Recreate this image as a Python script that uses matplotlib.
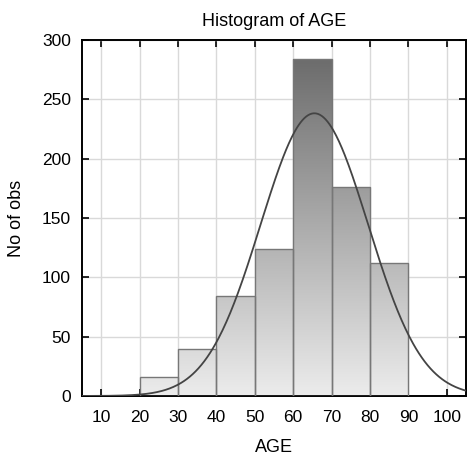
import numpy as np
import matplotlib.pyplot as plt
from matplotlib.patches import Rectangle
from matplotlib.colors import LinearSegmentedColormap

plt.rcParams['font.family'] = ['Liberation Sans', 'DejaVu Sans']

bin_left = [20, 30, 40, 50, 60, 70, 80]
counts = [16, 40, 84, 124, 284, 176, 112]
bin_width = 10
fit_mean = 65.5
fit_sd = 14.0
xticks = [10, 20, 30, 40, 50, 60, 70, 80, 90, 100]
yticks = [0, 50, 100, 150, 200, 250, 300]

fig = plt.figure(figsize=(4.67, 4.58), dpi=100)
ax = fig.add_axes([0.1756, 0.1354, 0.8224, 0.7773])
ax.set_xlim(5, 105)
ax.set_ylim(0, 300)
ax.set_axisbelow(True)
ax.grid(True, color='#d9d9d9', lw=1)

# vertical gradient, light at 0 and dark near the top of the tallest bar
cmap = LinearSegmentedColormap.from_list('bargrey', ['#ececec', '#6c6c6c'])
grad = np.linspace(0, 1, 256).reshape(-1, 1)
for x0, c in zip(bin_left, counts):
    im = ax.imshow(grad, extent=(5, 105, 0, max(counts)), origin='lower', aspect='auto',
                   cmap=cmap, zorder=2, interpolation='bilinear')
    rect = Rectangle((x0, 0), bin_width, c, fc='none', ec='#777777', lw=1, zorder=3)
    ax.add_patch(rect)
    im.set_clip_path(rect)
ax.set_xlim(5, 105)
ax.set_ylim(0, 300)

n = sum(counts)
xs = np.linspace(5, 105, 400)
ys = n * bin_width / (fit_sd * np.sqrt(2 * np.pi)) * np.exp(-(xs - fit_mean) ** 2 / (2 * fit_sd ** 2))
ax.plot(xs, ys, color='#444444', lw=1.3, zorder=4)

ax.set_xticks(xticks)
ax.set_yticks(yticks)
ax.tick_params(direction='in', length=5, width=1.2, top=True, right=True, labelsize=12.5)
ax.tick_params(axis='x', pad=10)
ax.tick_params(axis='y', pad=8)
for s in ax.spines.values():
    s.set_linewidth(1.4)
ax.set_title('Histogram of AGE', fontsize=13, pad=10)
ax.set_xlabel('AGE', fontsize=13, labelpad=10)
ax.set_ylabel('No of obs', fontsize=13, labelpad=12)

fig.savefig('out.png', dpi=100)
